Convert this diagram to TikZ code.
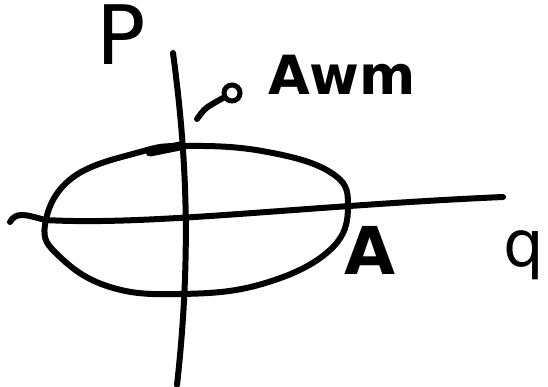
\documentclass[tikz,border=0pt]{standalone}
\usepackage{fontspec}
\setmainfont{DejaVu Sans}
\usetikzlibrary{positioning}

\tikzset{
  pen/.style={line width=6pt, line cap=round, line join=round},
  handlabel/.style={inner sep=0pt}
}

\begin{document}
\begin{tikzpicture}[x=1pt, y=-1pt]
    \useasboundingbox (0,0) rectangle (548,387);
    % ---------------- axes
    \draw[pen] (173,53) .. controls (186,150) and (192,250) .. (177,385);
    \draw[pen] (10,222) .. controls (16,212) and (24,214) .. (45,220)
      .. controls (150,226) and (300,206) .. (503,197);
    % ---------------- ellipse
    \draw[pen] plot[smooth cycle, tension=0.7] coordinates {
      (45,225) (72,178) (140,152) (185,146) (262,151) (330,172) (348,205)
      (330,250) (262,284) (180,294) (110,287) (60,257)};
    \draw[line width=9pt, line cap=round] (150,152) -- (180,146);
    % ---------------- labels
    \node[handlabel, font=\fontsize{82}{82}\selectfont] (p) at (121,35) {P};
    \node[handlabel, font=\fontsize{64}{64}\selectfont] (q) at (524,255) {q};
    \node[handlabel, font=\bfseries\fontsize{66}{66}\selectfont] (a) at (370,250) {A};
    \node[handlabel, font=\bfseries\fontsize{54}{54}\selectfont] (awm) at (342,75) {Awm};
    \node[draw, circle, line width=5pt, minimum size=16pt, inner sep=0pt] (dot) at (232,93) {};
    \coordinate (tip) at (197,119);
    \draw[pen] (tip) .. controls (205,108) .. (dot);
\end{tikzpicture}
\end{document}
